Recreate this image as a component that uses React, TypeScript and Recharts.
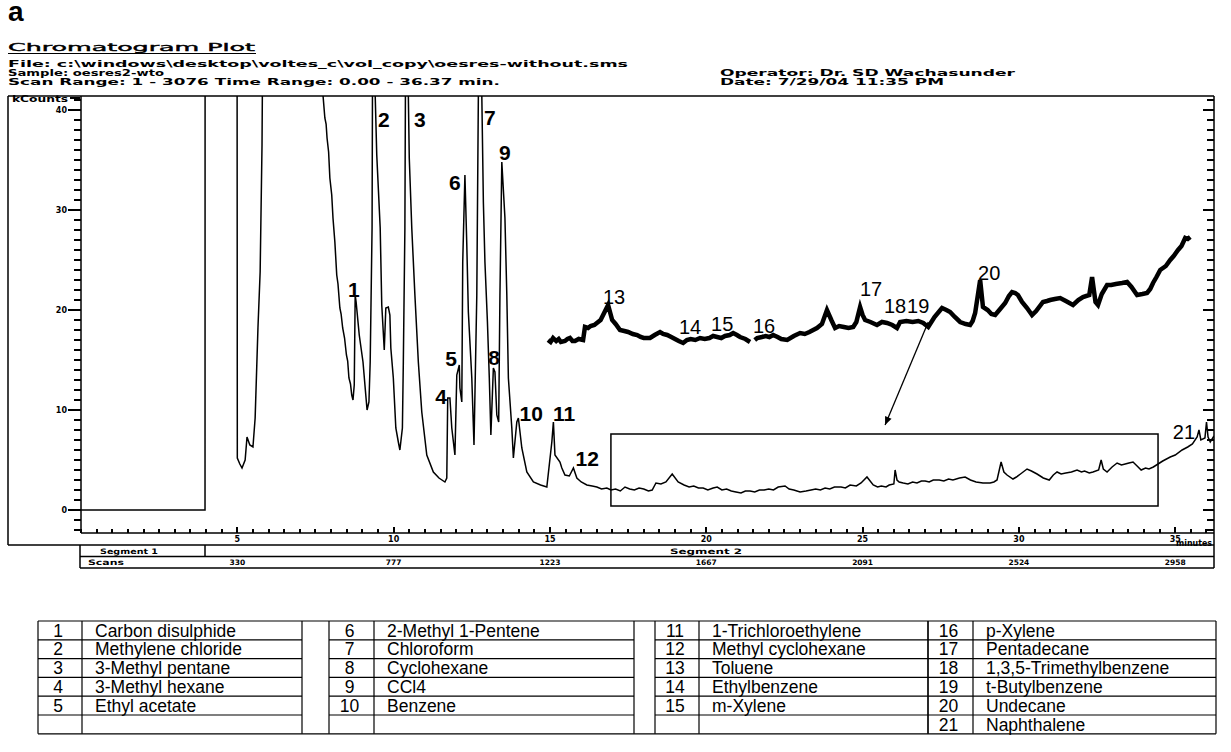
import React from 'react';
import { LineChart, Line, XAxis, YAxis, ReferenceArea, ReferenceDot, ReferenceLine } from 'recharts';

const W = 1231;
const H = 752;

// ---- main chromatogram trace: [minutes, kCounts] (values above 41 are off-scale) ----
const traceSolventFront: [number, number][] = [
  [0, 0], [2.0, 0], [3.967, 0], [3.97, 60], [4.99, 60], [5.0, 5.2], [5.08, 4.6], [5.15, 4.2],
  [5.25, 5.0], [5.31, 7.3], [5.4, 6.5], [5.5, 6.3], [5.57, 9.2], [5.66, 18.2], [5.73, 23.8],
  [5.79, 36.5], [5.84, 60], [7.70, 60],
];
const tracePeaks1to12: [number, number][] = [
  [7.74, 41.5], [7.80, 39.2], [7.84, 38.6], [7.87, 37.2], [7.92, 35.8], [7.96, 33.2], [8.02, 31.5], [8.06, 29.2],
  [8.12, 26.8], [8.18, 23.5], [8.22, 22.6], [8.28, 20.2], [8.32, 19.6], [8.37, 18.2], [8.43, 17.2], [8.49, 15.5],
  [8.53, 14.9], [8.57, 13.2], [8.62, 12.6], [8.66, 11.5], [8.70, 11.0], [8.74, 12.5], [8.77, 21.5],
  [8.80, 20.8], [8.90, 17.5], [9.02, 14.8], [9.09, 12.2], [9.15, 10.0], [9.21, 10.8], [9.25, 14.8],
  [9.31, 28.2], [9.34, 60], [9.40, 60], [9.41, 41.5], [9.46, 35.5], [9.57, 28.2], [9.62, 20.5],
  [9.67, 17.7], [9.70, 16.0], [9.75, 20.2], [9.83, 20.3], [9.88, 19.5], [9.91, 16.2], [9.99, 13.2],
  [10.07, 8.2], [10.15, 6.8], [10.20, 6.0], [10.28, 8.2], [10.31, 14.8], [10.36, 28.2], [10.40, 60],
  [10.45, 60], [10.47, 41.5], [10.50, 35.2], [10.58, 28.2], [10.68, 21.5], [10.79, 14.8], [10.90, 9.8],
  [11.06, 5.5], [11.27, 3.8], [11.45, 3.2], [11.64, 2.8], [11.70, 3.2], [11.73, 11.2], [11.80, 11.2],
  [11.86, 8.2], [11.96, 5.5], [12.02, 13.5], [12.10, 14.5], [12.12, 12.2], [12.18, 10.8], [12.21, 24.8],
  [12.28, 33.5], [12.34, 26.5], [12.39, 19.8], [12.50, 13.2], [12.57, 6.5], [12.66, 21.5], [12.71, 41.5],
  [12.73, 60], [12.80, 60], [12.82, 41.5], [12.87, 30.8], [12.92, 24.8], [13.00, 18.8], [13.06, 13.2],
  [13.11, 7.5], [13.19, 14.2], [13.24, 13.8], [13.30, 9.5], [13.36, 8.8], [13.40, 21.5], [13.46, 34.8],
  [13.56, 29.2], [13.62, 21.5], [13.67, 13.2], [13.78, 8.2], [13.83, 5.2], [13.94, 8.8], [13.99, 9.2],
  [14.10, 6.2], [14.26, 3.8], [14.47, 2.8], [14.70, 2.5], [14.90, 2.3], [15.06, 6.8], [15.11, 8.8],
  [15.16, 5.5], [15.32, 4.8], [15.38, 4.2], [15.48, 3.5], [15.62, 3.4], [15.75, 4.2], [15.86, 3.2],
  [16.0, 2.8], [16.18, 2.5], [16.35, 2.4], [16.5, 2.3], [16.65, 2.1], [16.82, 2.2],
];
const traceLateBaseline: [number, number][] = [
  [16.95, 2.0], [17.1, 2.1], [17.25, 1.9], [17.4, 2.3], [17.55, 2.1], [17.7, 2.0], [17.85, 2.2], [18.0, 2.1],
  [18.15, 1.9], [18.27, 2.0], [18.39, 2.7], [18.55, 2.6], [18.71, 2.8], [18.91, 3.6], [19.10, 2.8],
  [19.29, 2.5], [19.45, 2.3], [19.6, 2.4], [19.75, 2.2], [19.9, 2.2], [20.05, 2.0], [20.22, 2.2],
  [20.35, 2.3], [20.5, 2.0], [20.65, 2.1], [20.8, 1.9], [20.95, 1.8], [21.11, 1.7], [21.25, 1.9],
  [21.4, 1.9], [21.55, 1.8], [21.7, 2.0], [21.85, 2.0], [22.0, 2.1], [22.15, 2.0], [22.3, 2.3],
  [22.52, 2.4], [22.65, 2.1], [22.8, 2.0], [23.0, 1.8], [23.19, 1.9], [23.35, 2.0], [23.5, 2.1],
  [23.65, 2.0], [23.8, 2.2], [23.95, 2.1], [24.1, 2.3], [24.31, 2.3], [24.45, 2.2], [24.6, 2.5],
  [24.8, 2.4], [24.95, 2.7], [25.14, 3.3], [25.34, 2.5], [25.48, 2.3], [25.6, 2.4], [25.75, 2.3],
  [25.85, 2.5], [26.0, 2.6], [26.04, 4.0], [26.1, 3.0], [26.17, 2.8], [26.3, 2.7], [26.45, 2.6],
  [26.6, 2.8], [26.74, 2.7], [26.88, 2.9], [27.0, 2.9], [27.13, 2.8], [27.26, 3.0], [27.45, 3.0],
  [27.6, 2.9], [27.75, 3.1], [27.89, 3.0], [28.1, 3.2], [28.28, 3.3], [28.45, 3.0], [28.63, 2.8],
  [28.85, 2.7], [29.08, 2.7], [29.2, 2.8], [29.3, 3.0], [29.43, 4.8], [29.52, 3.8], [29.62, 3.5],
  [29.81, 3.1], [29.92, 3.3], [30.05, 3.6], [30.26, 4.1], [30.4, 3.9], [30.58, 3.6], [30.78, 3.2],
  [30.97, 3.0], [31.1, 3.5], [31.22, 3.8], [31.35, 3.6], [31.5, 3.7], [31.68, 3.8], [31.86, 4.0],
  [32.0, 3.8], [32.1, 3.9], [32.25, 3.7], [32.37, 3.8], [32.55, 4.0], [32.63, 5.0], [32.7, 4.1],
  [32.82, 3.8], [32.98, 4.3], [33.14, 4.7], [33.28, 4.5], [33.4, 4.6], [33.52, 4.7], [33.65, 4.8],
  [33.78, 4.4], [33.91, 4.0], [34.05, 4.2], [34.16, 4.1], [34.3, 4.3], [34.45, 4.6], [34.6, 4.9],
  [34.84, 5.3], [35.0, 5.5], [35.22, 6.0], [35.4, 6.3], [35.55, 6.6], [35.70, 7.3], [35.76, 8.0],
  [35.82, 7.0], [35.95, 7.2], [36.0, 8.8], [36.05, 7.3], [36.12, 6.8], [36.24, 7.4],
];

// ---- expanded (magnified) view of the late region, drawn as a thick trace ----
const insetTrace: [number, number | null][] = [
  [14.94, 17.0], [15.02, 16.8], [15.1, 17.2], [15.2, 16.9], [15.28, 17.1], [15.35, 16.8], [15.48, 16.9],
  [15.56, 17.1], [15.64, 17.2], [15.72, 16.9], [15.8, 16.9], [15.92, 17.1], [16.06, 17.0], [16.12, 18.3],
  [16.22, 18.2], [16.3, 18.4], [16.42, 18.5], [16.54, 18.8], [16.62, 19.0], [16.70, 19.5], [16.86, 20.5],
  [16.99, 19.0], [17.1, 18.6], [17.24, 18.0], [17.38, 17.9], [17.5, 17.8], [17.65, 17.6], [17.79, 17.5],
  [17.9, 17.3], [18.0, 17.2], [18.20, 17.2], [18.35, 17.5], [18.52, 17.8], [18.62, 17.6], [18.75, 17.5],
  [18.88, 17.3], [19.0, 17.1], [19.12, 16.9], [19.26, 16.7], [19.38, 17.0], [19.5, 17.1], [19.65, 17.0],
  [19.80, 17.2], [19.95, 17.1], [20.1, 17.2], [20.22, 17.4], [20.35, 17.3], [20.48, 17.2], [20.6, 17.4],
  [20.75, 17.5], [20.86, 17.7], [20.98, 17.5], [21.08, 17.3], [21.25, 17.1], [21.40, 16.8], [21.45, null],
  [21.55, 17.0], [21.63, 17.2], [21.78, 17.3], [21.9, 17.4], [22.02, 17.3], [22.14, 17.5], [22.28, 17.3],
  [22.4, 17.1], [22.59, 17.0], [22.8, 17.4], [23.00, 17.7], [23.15, 17.6], [23.3, 17.8], [23.42, 18.0],
  [23.54, 18.2], [23.7, 18.6], [23.86, 20.0], [24.0, 19.0], [24.12, 18.2], [24.25, 18.4], [24.4, 18.3],
  [24.55, 18.2], [24.70, 18.3], [24.8, 18.8], [24.92, 20.3], [25.0, 19.5], [25.08, 19.0], [25.25, 18.8],
  [25.46, 18.5], [25.62, 18.8], [25.78, 18.7], [25.95, 18.5], [26.10, 18.2], [26.20, 18.8], [26.4, 18.9],
  [26.6, 18.8], [26.78, 18.9], [26.94, 18.7], [27.10, 18.3], [27.3, 19.3], [27.54, 20.2], [27.68, 20.0],
  [27.80, 19.8], [27.95, 19.3], [28.12, 18.8], [28.3, 18.6], [28.44, 18.5], [28.52, 18.9], [28.60, 19.7],
  [28.76, 23.0], [28.85, 20.3], [29.0, 20.0], [29.12, 19.6], [29.24, 19.5], [29.4, 20.1], [29.56, 20.7],
  [29.68, 21.4], [29.78, 21.8], [29.88, 21.7], [29.97, 21.5], [30.1, 20.8], [30.26, 20.2], [30.35, 19.8],
  [30.42, 19.5], [30.55, 19.9], [30.77, 20.8], [30.9, 20.9], [31.0, 21.0], [31.15, 21.1], [31.32, 21.2],
  [31.5, 20.9], [31.73, 20.5], [31.9, 21.0], [32.05, 21.3], [32.25, 21.5], [32.34, 23.3], [32.45, 20.8],
  [32.53, 20.5], [32.65, 21.6], [32.82, 22.5], [32.95, 22.5], [33.1, 22.6], [33.3, 22.7], [33.46, 22.8],
  [33.6, 22.3], [33.78, 21.5], [33.95, 21.6], [34.10, 21.7], [34.2, 22.1], [34.29, 22.7], [34.4, 23.3],
  [34.52, 24.0], [34.7, 24.4], [34.84, 25.0], [34.95, 25.4], [35.09, 26.0], [35.2, 26.4], [35.32, 27.2],
  [35.4, 27.1], [35.48, 27.3],
];

// ---- peak number labels: [label, minutes, kCounts, bold] ----
const peakLabels: [string, number, number, boolean][] = [
  ['1', 8.73, 21.3, true], ['2', 9.69, 38.3, true], ['3', 10.84, 38.3, true], ['4', 11.52, 10.6, true],
  ['5', 11.84, 14.4, true], ['6', 11.96, 32.0, true], ['7', 13.08, 38.5, true], ['8', 13.21, 14.5, true],
  ['9', 13.56, 35.0, true], ['10', 14.40, 8.9, true], ['11', 15.45, 8.9, true], ['12', 16.19, 4.4, true],
  ['13', 17.05, 20.6, false], ['14', 19.48, 17.6, false], ['15', 20.51, 17.9, false], ['16', 21.85, 17.7, false],
  ['17', 25.27, 21.4, false], ['18', 26.04, 19.7, false], ['19', 26.78, 19.7, false], ['20', 29.05, 23.0, false],
  ['21', 35.28, 7.1, false],
];

// inset frame and arrow (minutes / kCounts)
const insetBox = { t1: 16.95, t2: 34.45, v1: 0.4, v2: 7.6 };
const arrowFrom = { t: 27.1, v: 18.8 };
const arrowTo = { t: 25.72, v: 8.5 };

// axes
const T_MIN = 0;
const T_MAX = 36.24;
const V_MIN = -2.3;
const V_MAX = 41.4;
const minuteTicks = Array.from({ length: 73 }, (_, i) => i * 0.5);
const majorMinuteTicks = [5, 10, 15, 20, 25, 30, 35];
const countTicks = Array.from({ length: 44 }, (_, i) => i - 2);
const majorCountTicks = [0, 10, 20, 30, 40];
const scanLabels = ['330', '777', '1223', '1667', '2091', '2524', '2958'];

// chart frame geometry (pixels)
const MARGIN = { top: 96, right: 17, bottom: 207, left: 51 };
const Y_AXIS_W = 30;
const X_AXIS_H = 12;
const PLOT = {
  left: MARGIN.left + Y_AXIS_W,
  right: W - MARGIN.right,
  top: MARGIN.top,
  bottom: H - MARGIN.bottom - X_AXIS_H,
};

// compound table
const compounds = [
  'Carbon disulphide', 'Methylene chloride', '3-Methyl pentane', '3-Methyl hexane', 'Ethyl acetate',
  '2-Methyl 1-Pentene', 'Chloroform', 'Cyclohexane', 'CCl4', 'Benzene',
  '1-Trichloroethylene', 'Methyl cyclohexane', 'Toluene', 'Ethylbenzene', 'm-Xylene',
  'p-Xylene', 'Pentadecane', '1,3,5-Trimethylbenzene', 't-Butylbenzene', 'Undecane', 'Naphthalene',
];
const groupSizes = [5, 5, 5, 6];

const mainData = [...traceSolventFront, ...tracePeaks1to12, ...traceLateBaseline].map(([t, v]) => ({ t, v }));
const insetData = insetTrace.map(([t, v]) => ({ t, v }));

const TINY = '"DejaVu Sans", sans-serif';
const ARIAL = '"Liberation Sans", Arial, sans-serif';

// axis tick labels (via the axes)
const XTick = (props: any) => {
  const { x, y, payload } = props;
  const v = payload.value;
  const idx = majorMinuteTicks.indexOf(v);
  if (idx < 0) return <g />;
  return (
    <g>
      <text x={x} y={y + 9} textAnchor="middle" fontSize={8} fontWeight="bold" fontFamily={TINY}>{v}</text>
      <text x={x} y={y + 32} textAnchor="middle" fontSize={7.5} fontWeight="bold" fontFamily={TINY}>{scanLabels[idx]}</text>
    </g>
  );
};

const YTickLeft = (props: any) => {
  const { x, y, payload } = props;
  const v = payload.value;
  return (
    <text x={x - 14} y={y + 3} textAnchor="end" fontSize={8} fontWeight="bold" fontFamily={TINY}>{v}</text>
  );
};

const ArrowShape = (p: any) => {
  const { x1, y1, x2, y2 } = p;
  const ang = Math.atan2(y2 - y1, x2 - x1);
  const L = 9;
  const s = 0.4;
  const ax = x2 - L * Math.cos(ang - s);
  const ay = y2 - L * Math.sin(ang - s);
  const bx = x2 - L * Math.cos(ang + s);
  const by = y2 - L * Math.sin(ang + s);
  return (
    <g>
      <line x1={x1} y1={y1} x2={x2} y2={y2} stroke="#000" strokeWidth={1.3} />
      <polygon points={`${x2},${y2} ${ax},${ay} ${bx},${by}`} fill="#000" />
    </g>
  );
};

// axis tick marks (decoration) as one path on a top overlay sharing the chart's frame geometry
function TickMarks() {
  const yPix = (v: number) => PLOT.bottom - ((v - V_MIN) / (V_MAX - V_MIN)) * (PLOT.bottom - PLOT.top);
  const xPix = (t: number) => PLOT.left + ((t - T_MIN) / (T_MAX - T_MIN)) * (PLOT.right - PLOT.left);
  let d = '';
  countTicks.forEach((v) => {
    const major = v % 10 === 0;
    const y = Math.round(yPix(v));
    d += `M${PLOT.left - (major ? 13 : 7)} ${y}H${PLOT.left} `;
    d += `M${PLOT.right - (major ? 11 : 7)} ${y}H${PLOT.right} `;
  });
  minuteTicks.forEach((t) => {
    const major = t > 0 && t % 5 === 0;
    const x = Math.round(xPix(t));
    d += `M${x} ${PLOT.bottom}V${PLOT.bottom - (major ? 6 : 4)} `;
  });
  return <path d={d} stroke="#000" strokeWidth={2} fill="none" />;
}

const wide = { lengthAdjust: 'spacingAndGlyphs' as const, fontFamily: TINY, fontWeight: 'bold' as const };

function Header() {
  return (
    <g>
      <text x={8} y={21} fontSize={28} fontWeight="bold" fontFamily={ARIAL}>a</text>
      <text x={8} y={51} fontSize={11} {...wide} fontWeight="normal" stroke="#000" strokeWidth={0.4} textLength={247}>Chromatogram Plot</text>
      <line x1={8} x2={256} y1={53.5} y2={53.5} stroke="#000" strokeWidth={1} />
      <text x={8} y={67} fontSize={8.5} {...wide} textLength={620}>
        {'File: c:\\windows\\desktop\\voltes_c\\vol_copy\\oesres-without.sms'}
      </text>
      <text x={8} y={76} fontSize={8.5} {...wide} textLength={156}>Sample: oesres2-wto</text>
      <text x={8} y={85} fontSize={8.5} {...wide} textLength={492}>Scan Range: 1 - 3076 Time Range: 0.00 - 36.37 min.</text>
      <text x={720} y={76} fontSize={8.5} {...wide} textLength={295}>Operator: Dr. SD Wachasunder</text>
      <text x={720} y={85} fontSize={8.5} {...wide} textLength={224}>Date: 7/29/04 11:35 PM</text>
    </g>
  );
}

function Frames() {
  const s = { stroke: '#000', strokeWidth: 1.5 };
  return (
    <g>
      <line x1={8} x2={1214} y1={96} y2={96} {...s} />
      <line x1={8} x2={8} y1={96} y2={545} {...s} />
      <line x1={8} x2={1214} y1={545} y2={545} {...s} />
      <line x1={1214} x2={1214} y1={96} y2={568} {...s} />
      <line x1={80} x2={80} y1={545} y2={568} {...s} />
      <line x1={80} x2={1214} y1={556.5} y2={556.5} {...s} />
      <line x1={80} x2={1214} y1={568} y2={568} {...s} />
      <line x1={205} x2={205} y1={545} y2={556.5} {...s} />
      <text x={12} y={102} fontSize={8} {...wide} textLength={56}>kCounts</text>
      <path d="M70 98H80" stroke="#000" strokeWidth={2} />
      <text x={1176} y={546} fontSize={8} {...wide} textLength={36}>minutes</text>
      <text x={100} y={554} fontSize={7.5} {...wide} textLength={58}>Segment 1</text>
      <text x={670} y={554} fontSize={7.5} {...wide} textLength={72}>Segment 2</text>
      <text x={88} y={565} fontSize={7.5} {...wide} textLength={36}>Scans</text>
    </g>
  );
}

function CompoundTable() {
  const top = 621;
  const rowH = 18.8;
  const bottom = top + rowH * 6;
  const cols = [
    { numL: 38, nameL: 82, right: 302 },
    { numL: 329, nameL: 374, right: 634 },
    { numL: 655, nameL: 699, right: 928 },
    { numL: 928, nameL: 973, right: 1216 },
  ];
  const s = { stroke: '#000', strokeWidth: 1.2 };
  const out: React.ReactNode[] = [];
  out.push(<line key="top" x1={38} x2={1216} y1={top} y2={top} {...s} />);
  out.push(<line key="bot" x1={38} x2={1216} y1={bottom} y2={bottom} {...s} />);
  let n = 0;
  cols.forEach((c, gi) => {
    [c.numL, c.nameL, c.right].forEach((x, k) =>
      out.push(<line key={`v${gi}-${k}`} x1={x} x2={x} y1={top} y2={bottom} {...s} />)
    );
    for (let r = 1; r < 6; r++) {
      out.push(<line key={`h${gi}-${r}`} x1={c.numL} x2={c.right} y1={top + r * rowH} y2={top + r * rowH} {...s} />);
    }
    for (let r = 0; r < groupSizes[gi]; r++) {
      n += 1;
      const y = top + r * rowH + 15.5;
      out.push(
        <text key={`n${n}`} x={(c.numL + c.nameL) / 2 - 2} y={y} textAnchor="middle" fontSize={17.5} fontFamily={ARIAL}>{n}</text>
      );
      out.push(
        <text key={`c${n}`} x={c.nameL + 13} y={y} fontSize={17.5} fontFamily={ARIAL}>{compounds[n - 1]}</text>
      );
    }
  });
  return <g>{out}</g>;
}

export default function App() {
  return (
    <div style={{ position: 'absolute', left: 0, top: 0, width: W, height: H, background: '#fff', overflow: 'hidden' }}>
      <svg width={W} height={H} style={{ position: 'absolute', left: 0, top: 0 }}>
        <Header />
        <Frames />
        <CompoundTable />
      </svg>
      <div style={{ position: 'absolute', left: 0, top: 0 }}>
        <LineChart width={W} height={H} margin={MARGIN}>
          <XAxis
            dataKey="t"
            type="number"
            domain={[T_MIN, T_MAX]}
            ticks={majorMinuteTicks}
            interval={0}
            allowDataOverflow
            tickSize={0}
            tickMargin={0}
            tickLine={false}
            height={X_AXIS_H}
            axisLine={{ stroke: '#000', strokeWidth: 1.5 }}
            tick={<XTick />}
          />
          <YAxis
            yAxisId="l"
            type="number"
            domain={[V_MIN, V_MAX]}
            ticks={majorCountTicks}
            interval={0}
            allowDataOverflow
            width={Y_AXIS_W}
            tickSize={0}
            tickMargin={0}
            tickLine={false}
            axisLine={{ stroke: '#000', strokeWidth: 1.5 }}
            tick={<YTickLeft />}
          />
          <ReferenceArea
            yAxisId="l"
            x1={insetBox.t1}
            x2={insetBox.t2}
            y1={insetBox.v1}
            y2={insetBox.v2}
            fill="none"
            fillOpacity={0}
            stroke="#000"
            strokeWidth={1.5}
          />
          <Line
            yAxisId="l"
            data={mainData}
            dataKey="v"
            type="linear"
            stroke="#000"
            strokeWidth={1.5}
            dot={false}
            activeDot={false}
            isAnimationActive={false}
          />
          <Line
            yAxisId="l"
            data={insetData}
            dataKey="v"
            type="linear"
            stroke="#000"
            strokeWidth={4.5}
            dot={false}
            activeDot={false}
            isAnimationActive={false}
          />
          <ReferenceLine
            yAxisId="l"
            segment={[{ x: arrowFrom.t, y: arrowFrom.v }, { x: arrowTo.t, y: arrowTo.v }]}
            stroke="#000"
            shape={ArrowShape}
          />
          {peakLabels.map(([label, t, v, bold]) => (
            <ReferenceDot
              key={label}
              yAxisId="l"
              x={t}
              y={v}
              r={0}
              shape={(p: any) => (
                <text
                  x={p.cx}
                  y={p.cy}
                  textAnchor="middle"
                  fontSize={bold ? 21 : 20}
                  fontWeight={bold ? 'bold' : 'normal'}
                  fontFamily={ARIAL}
                  fill="#000"
                >
                  {label}
                </text>
              )}
            />
          ))}
        </LineChart>
      </div>
      <svg width={W} height={H} style={{ position: 'absolute', left: 0, top: 0, pointerEvents: 'none' }}>
        <TickMarks />
      </svg>
    </div>
  );
}
